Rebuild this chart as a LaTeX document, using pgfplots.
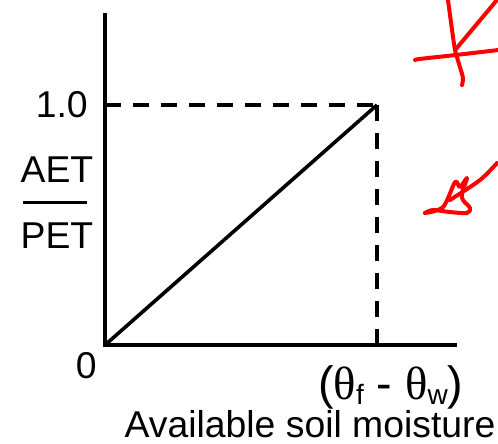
\documentclass[border=0pt]{standalone}
\usepackage{pgfplots}
\pgfplotsset{compat=1.18}
\usepackage{fontspec}
\setmainfont{Liberation Sans}
\newfontfamily\thetafont{Liberation Serif}
\begin{document}
\fontsize{28}{32}\selectfont
\begin{tikzpicture}
\useasboundingbox (-78.75pt,-73.5pt) rectangle (294.75pt,258.75pt);
\begin{axis}[
  at={(0,0)}, anchor=south west,
  scale only axis, width=262.5pt, height=247.5pt,
  xmin=0, xmax=1.2868, ymin=0, ymax=1.375,
  axis x line*=bottom, axis y line*=left,
  axis line style={line width=3.2pt, line cap=rect},
  xtick=\empty, ytick=\empty,
  clip=false,
]
% theoretical relation
\addplot[black, line width=2.7pt] coordinates {(0,0) (1,1)};
\addplot[black, line width=3pt, dash pattern=on 12pt off 9pt] coordinates {(0,1) (1,1)};
\addplot[black, line width=3pt, dash pattern=on 12pt off 9pt] coordinates {(1,1) (1,0)};
% red hand annotations
\addplot[red, line width=3pt, smooth, line cap=round] coordinates {(1.261,1.4375) (1.276,1.3125) (1.287,1.229) (1.305,1.158) (1.316,1.1125) (1.3125,1.083)};
\addplot[red, line width=3pt, smooth, line cap=round] coordinates {(1.441,1.4375) (1.364,1.333) (1.287,1.229)};
\addplot[red, line width=3pt, smooth, line cap=round] coordinates {(1.140,1.1875) (1.158,1.192) (1.287,1.208) (1.445,1.229)};
\addplot[red, line width=3pt, smooth, line cap=round] coordinates {(1.441,0.758) (1.379,0.6875) (1.268,0.604)};
\addplot[red, line width=3pt, smooth, line cap=round, line join=round] coordinates {(1.176,0.55) (1.243,0.575) (1.287,0.679) (1.305,0.658) (1.331,0.696) (1.3125,0.633) (1.316,0.604) (1.342,0.571) (1.331,0.55) (1.268,0.554) (1.206,0.5625) (1.176,0.55)};
% labels
\node[anchor=east, inner sep=0pt] at (axis cs:0,1) [xshift=-12.75pt] {1.0};
\node[anchor=base, inner sep=0pt] at (axis cs:0,0.679) [xshift=-36pt] {AET};
\node[anchor=base, inner sep=0pt] at (axis cs:0,0.404) [xshift=-36pt] {PET};
\draw[line width=2.2pt] (axis cs:0,0.592) ++(-61.5pt,0) -- ++(48pt,0);
\node[anchor=base, inner sep=0pt] at (axis cs:0,0) [xshift=-14pt, yshift=-24.75pt] {0};
\node[anchor=base, inner sep=0pt, font=\fontsize{35}{38}\selectfont] at (axis cs:1.051,0) [yshift=-40.5pt] {({\thetafont θ}\raisebox{-4pt}{\fontsize{21}{21}\selectfont f} - {\thetafont θ}\raisebox{-4pt}{\fontsize{21}{21}\selectfont w})};
\node[anchor=base, inner sep=0pt] at (axis cs:0.754,0) [yshift=-69.5pt] {Available soil moisture};
\end{axis}
\end{tikzpicture}
\end{document}
